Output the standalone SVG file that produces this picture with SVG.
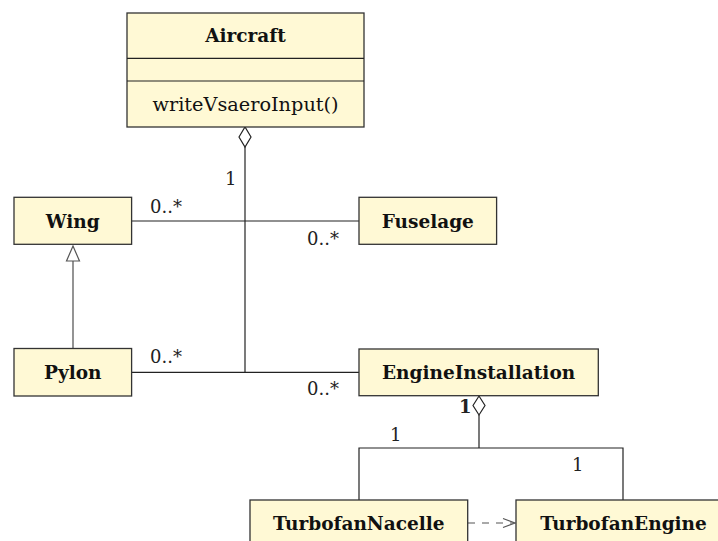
<svg xmlns="http://www.w3.org/2000/svg" width="718" height="541" viewBox="0 0 718 541">
<style>
.box{fill:#fff9d5;stroke:#333;stroke-width:1.3}
.t{font-family:"DejaVu Serif","Liberation Serif",serif;font-size:18.5px;fill:#111}
.b{font-weight:bold;text-anchor:middle}
.r{font-size:19.3px;text-anchor:middle}
.c{fill:none;stroke:#222;stroke-width:1.2}
.m{font-family:"DejaVu Serif","Liberation Serif",serif;font-size:18px;fill:#222}
</style>
<rect width="718" height="541" fill="#fff"/>
<g id="connectors">
<path class="c" d="M245,147 V372"/>
<path class="c" d="M131.6,221 H359"/>
<path class="c" d="M131.6,372.3 H359"/>
<path class="c" d="M239,137 L245,127 L251,137 L245,147 Z"/>
<path class="c" d="M479,415 V448 M359,500 V448 H623 V500"/>
<path class="c" d="M473,405.5 L479,396 L485,405.5 L479,415 Z"/>
<path d="M73,261 V348" fill="none" stroke="#666" stroke-width="1.4"/>
<path d="M73,246 L79.5,261 L66.5,261 Z" fill="#fff" stroke="#555" stroke-width="1.2"/>
<path d="M468,523 H514" fill="none" stroke="#555" stroke-width="1.2" stroke-dasharray="7,7"/>
<path d="M503,518.5 L515,523 L503,527.5" fill="none" stroke="#555" stroke-width="1.2"/>
<text class="m" x="225" y="185">1</text>
<text class="m" x="150" y="213">0..*</text>
<text class="m" x="307" y="245">0..*</text>
<text class="m" x="150" y="363">0..*</text>
<text class="m" x="307" y="395">0..*</text>
<text class="m" x="459" y="413" font-weight="bold">1</text>
<text class="m" x="390" y="441">1</text>
<text class="m" x="572" y="471">1</text>
</g>
<g id="Aircraft">
<rect class="box" x="127" y="13" width="237" height="114"/>
<path d="M127,58.3 H364 M127,81 H364" stroke="#222" stroke-width="1.2"/>
<text class="t b" x="245.5" y="42">Aircraft</text>
<text class="t r" x="245.5" y="110.5">writeVsaeroInput()</text>
</g>
<g id="Wing">
<rect class="box" x="14" y="197.3" width="117.6" height="47"/>
<text class="t b" x="72.8" y="227.5">Wing</text>
</g>
<g id="Fuselage">
<rect class="box" x="359" y="197.3" width="137.6" height="47"/>
<text class="t b" x="427.8" y="227.5">Fuselage</text>
</g>
<g id="Pylon">
<rect class="box" x="14" y="348.5" width="117.6" height="47.5"/>
<text class="t b" x="72.8" y="378.8">Pylon</text>
</g>
<g id="EngineInstallation">
<rect class="box" x="359" y="349" width="239.3" height="46.7"/>
<text class="t b" x="478.6" y="378.8">EngineInstallation</text>
</g>
<g id="TurbofanNacelle">
<rect class="box" x="250" y="500" width="217.7" height="47"/>
<text class="t b" x="358.8" y="529.8">TurbofanNacelle</text>
</g>
<g id="TurbofanEngine">
<rect class="box" x="516" y="500" width="215" height="47"/>
<text class="t b" x="623.5" y="529.8">TurbofanEngine</text>
</g>
</svg>
